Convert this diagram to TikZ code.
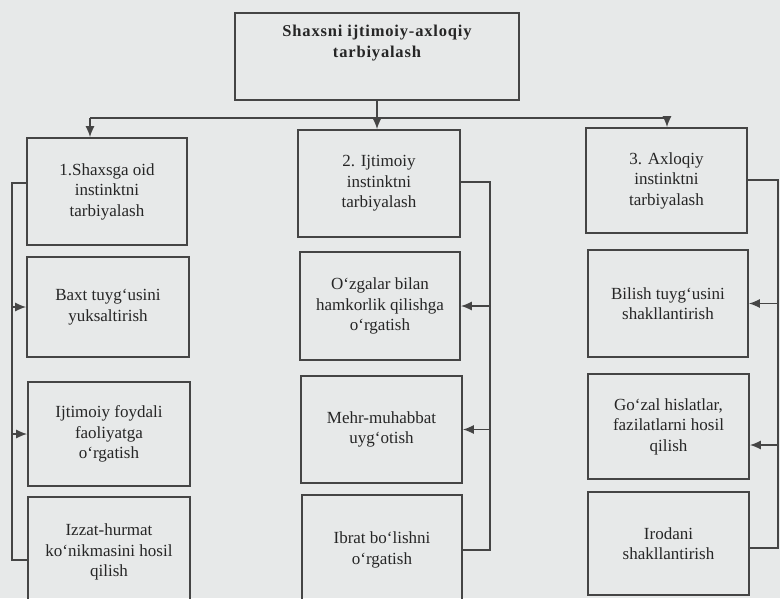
\documentclass[tikz,border=0pt]{standalone}
\usepackage{fontspec}
\setmainfont{Liberation Serif}
\newfontfamily\titlefont{Liberation Serif}[LetterSpace=5]
\usetikzlibrary{arrows.meta}
\definecolor{paper}{HTML}{E7E9E9}
\definecolor{ink}{HTML}{454545}
\definecolor{txt}{HTML}{262626}
\begin{document}
\begin{tikzpicture}[x=1pt,y=-1pt,
  box/.style={draw=ink, line width=1.6pt, text=txt, align=center,
    font=\fontsize{17}{20.5}\selectfont, inner sep=0pt},
  conn/.style={draw=ink, line width=1.6pt},
  arr/.style={conn, -{Latex[length=11pt,width=9pt]}}]
\fill[paper] (0,0) rectangle (780,598);
\useasboundingbox (0,0) rectangle (780,598);
% top
\node[box, minimum width=284, minimum height=87,
  font=\fontsize{16.5}{21}\selectfont\titlefont\bfseries] (T) at (377,56.5)
  {Shaxsni ijtimoiy-axloqiy\\tarbiyalash\\[9pt]\mbox{}};
% left column
\node[box, minimum width=160, minimum height=107] (L1) at (107,191.5) {1.Shaxsga oid\\instinktni\\tarbiyalash};
\node[box, minimum width=162, minimum height=100] (L2) at (108,307) {Baxt tuyg‘usini\\yuksaltirish};
\node[box, minimum width=162, minimum height=104] (L3) at (109,434) {Ijtimoiy foydali\\faoliyatga\\o‘rgatish};
\node[box, minimum width=162, minimum height=110] (L4) at (109,552) {Izzat-hurmat\\ko‘nikmasini hosil\\qilish};
% middle column
\node[box, minimum width=162, minimum height=107] (M1) at (379,183.5) {2. Ijtimoiy\\instinktni\\tarbiyalash};
\node[box, minimum width=160, minimum height=108] (M2) at (380,306) {O‘zgalar bilan\\hamkorlik qilishga\\o‘rgatish};
\node[box, minimum width=161, minimum height=107] (M3) at (381.5,429.5) {Mehr-muhabbat\\uyg‘otish};
\node[box, minimum width=160, minimum height=110] (M4) at (382,550) {Ibrat bo‘lishni\\o‘rgatish};
% right column
\node[box, minimum width=161, minimum height=105] (R1) at (666.5,180.5) {3. Axloqiy\\instinktni\\tarbiyalash};
\node[box, minimum width=160, minimum height=107] (R2) at (668,303.5) {Bilish tuyg‘usini\\shakllantirish};
\node[box, minimum width=161, minimum height=105] (R3) at (668.5,426.5) {Go‘zal hislatlar,\\fazilatlarni hosil\\qilish};
\node[box, minimum width=161, minimum height=103] (R4) at (668.5,543.5) {Irodani\\shakllantirish};
% top distribution
\coordinate (busL) at (90,118);
\coordinate (busM) at (377,118);
\coordinate (busR) at (667,118);
\draw[conn] (T.south) -- (busM);
\draw[conn] (busL) -- (busR);
\draw[arr] (busL) -- (busL |- L1.north);
\draw[arr] (busM) -- (busM |- M1.north);
\draw[arr] (busR) -- (busR |- R1.north);
% left bus
\coordinate (lvT) at (12,183);
\coordinate (lvB) at (12,560);
\draw[conn] (L1.west |- lvT) -- (lvT) -- (lvB) -- (L4.west |- lvB);
\draw[arr] (L2.west -| lvT) -- (L2.west);
\draw[arr] (L3.west -| lvT) -- (L3.west);
% middle bus
\coordinate (mvT) at (490,182);
\coordinate (mvB) at (490,550);
\draw[conn] (M1.east |- mvT) -- (mvT) -- (mvB) -- (M4.east |- mvB);
\draw[arr] (M2.east -| mvT) -- (M2.east);
\draw[arr] (M3.east -| mvT) -- (M3.east);
% right bus
\coordinate (rvT) at (778,180);
\coordinate (rvB) at (778,548);
\coordinate (rv3) at (778,445);
\draw[conn] (R1.east |- rvT) -- (rvT) -- (rvB) -- (R4.east |- rvB);
\draw[arr] (R2.east -| rvT) -- (R2.east);
\draw[arr] (rv3) -- (R3.east |- rv3);
\end{tikzpicture}
\end{document}
